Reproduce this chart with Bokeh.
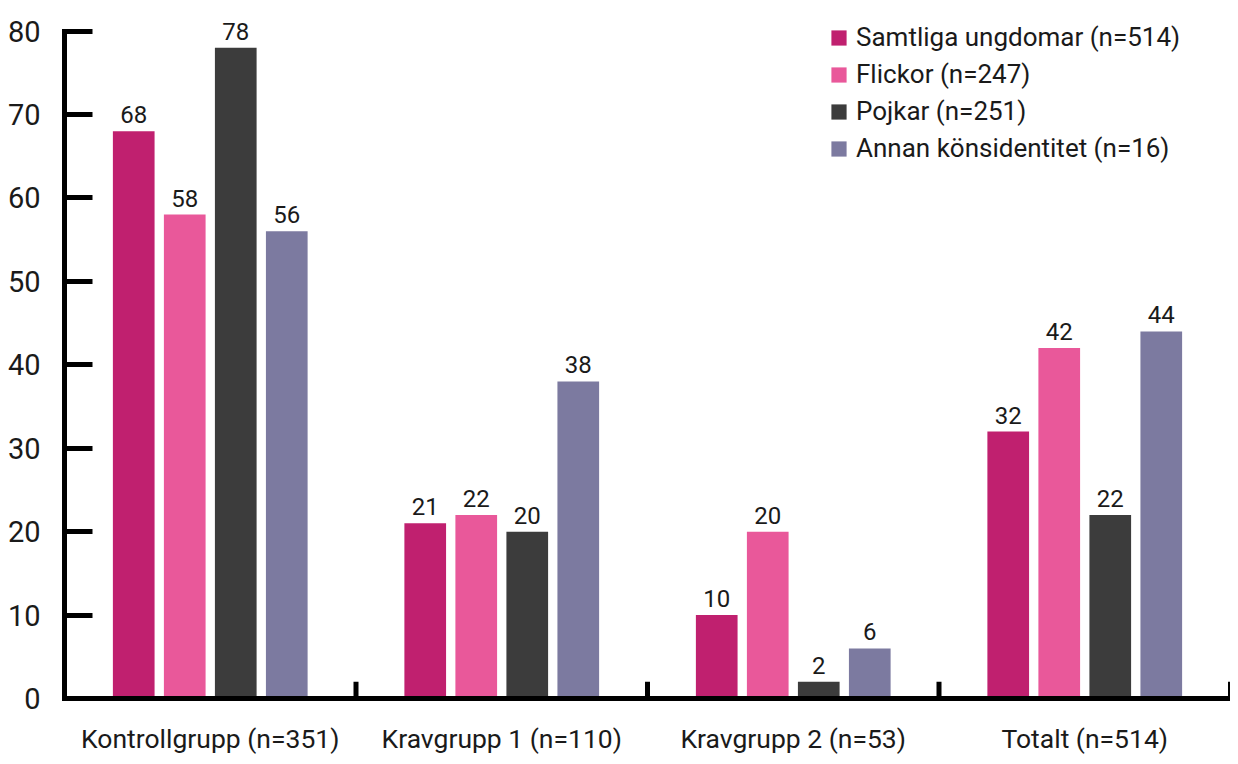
from bokeh.plotting import figure
from bokeh.models import FactorRange, Range1d, ColumnDataSource, LabelSet, Legend, LegendItem, SingleIntervalTicker
from bokeh.transform import dodge
from bokeh.core.properties import value
from bokeh.embed import file_html
from bokeh.resources import INLINE

categories = ["Kontrollgrupp (n=351)", "Kravgrupp 1 (n=110)", "Kravgrupp 2 (n=53)", "Totalt (n=514)"]
series_names = ["Samtliga ungdomar (n=514)", "Flickor (n=247)", "Pojkar (n=251)", "Annan könsidentitet (n=16)"]
samtliga = [68, 21, 10, 32]
flickor = [58, 22, 20, 42]
pojkar = [78, 20, 2, 22]
annan = [56, 38, 6, 44]
colors = ["#C0206F", "#E9589A", "#3C3C3C", "#7C7AA0"]
offsets = [-0.2625, -0.0875, 0.0875, 0.2625]
bar_width = 0.143

FONT = "Roboto"
TXT = "#1a1a1a"

data = dict(cat=categories, s0=samtliga, s1=flickor, s2=pojkar, s3=annan)
for i, k in enumerate(["s0", "s1", "s2", "s3"]):
    data["l" + k] = [str(v) for v in data[k]]
data["zero"] = [0] * len(categories)
data["tick"] = [2.0] * len(categories)
src = ColumnDataSource(data)

p = figure(x_range=FactorRange(*categories, range_padding=0), y_range=Range1d(0, 83.3),
           width=1230, height=756, output_backend="svg", toolbar_location=None,
           min_border_left=64, min_border_right=0, min_border_top=3, min_border_bottom=55)
p.outline_line_color = None
p.xgrid.visible = False
p.ygrid.visible = False
p.background_fill_color = "white"
p.border_fill_color = "white"

items = []
for i, k in enumerate(["s0", "s1", "s2", "s3"]):
    r = p.vbar(x=dodge("cat", offsets[i], range=p.x_range), top=k, width=bar_width,
               source=src, fill_color=colors[i], line_color=None)
    items.append(LegendItem(label=series_names[i], renderers=[r]))
    lab = LabelSet(x=dodge("cat", offsets[i], range=p.x_range), y=k, text="l" + k, source=src,
                   text_align="center", text_baseline="alphabetic", y_offset=8,
                   text_font=value(FONT), text_font_size="24px", text_color=TXT)
    p.add_layout(lab)

# category boundary ticks
p.segment(x0=dodge("cat", 0.5, range=p.x_range), y0="zero", x1=dodge("cat", 0.5, range=p.x_range), y1="tick",
          source=src, line_color="black", line_width=5)

# y axis
ya = p.yaxis[0]
ya.ticker = SingleIntervalTicker(interval=10)
ya.bounds = (0, 80)
ya.axis_line_width = 5
ya.axis_line_color = "black"
ya.axis_line_cap = "square"
ya.major_tick_in = 28
ya.major_tick_out = 0
ya.major_tick_line_width = 5
ya.major_tick_line_color = "black"
ya.minor_tick_line_color = None
ya.major_label_text_font = FONT
ya.major_label_text_font_size = "29px"
ya.major_label_text_color = TXT
ya.major_label_standoff = 20

xa = p.xaxis[0]
xa.axis_line_width = 5
xa.axis_line_color = "black"
xa.axis_line_cap = "square"
xa.major_tick_line_color = None
xa.major_tick_in = 0
xa.major_tick_out = 0
xa.major_label_text_font = FONT
xa.major_label_text_font_size = "26.5px"
xa.major_label_text_color = TXT
xa.major_label_standoff = 24

legend = Legend(items=items, location=(765, 532), orientation="vertical",
                label_text_font=FONT, label_text_font_size="26px", label_text_color=TXT,
                glyph_width=19, glyph_height=19, label_height=36, spacing=1, label_standoff=8,
                padding=0, margin=0, border_line_color=None, background_fill_alpha=0)
p.add_layout(legend)

open("out.html", "w").write(file_html(p, INLINE))
